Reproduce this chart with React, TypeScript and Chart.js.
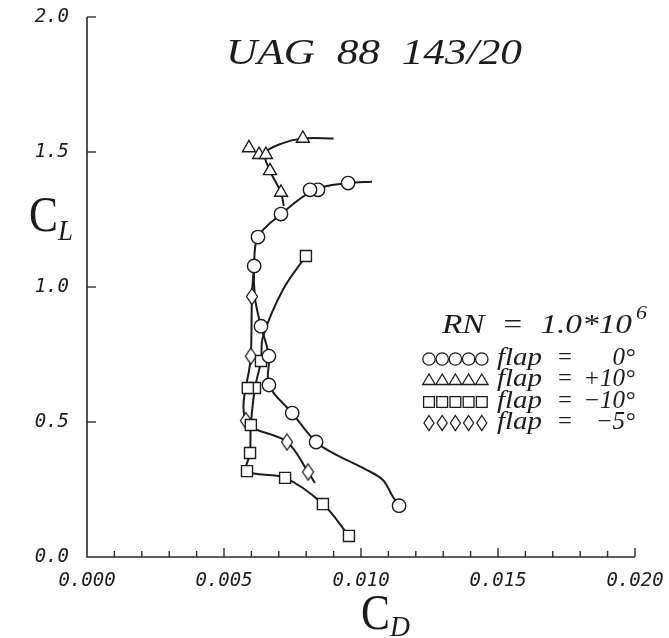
import React, { useEffect, useRef } from 'react';
import { Chart, registerables } from 'chart.js';

Chart.register(...registerables);

// ---------------- data ----------------
const xTickLabels = ['0.000', '0.005', '0.010', '0.015', '0.020'];
const yTickLabels = ['0.0', '0.5', '1.0', '1.5', '2.0'];

// flap = 0 deg (circles)
const flap0MarkCD = [0.00953, 0.00843, 0.00814, 0.00708, 0.00624, 0.0061, 0.00635, 0.00664, 0.00664, 0.00749, 0.00836, 0.01139];
const flap0MarkCL = [1.385, 1.36, 1.36, 1.27, 1.185, 1.078, 0.855, 0.744, 0.637, 0.533, 0.426, 0.19];
const flap0CurveCD = [0.0104, 0.00953, 0.0083, 0.00708, 0.00624, 0.0061, 0.00613, 0.00635, 0.00664, 0.00664, 0.00749, 0.00836, 0.00898, 0.01022, 0.0108, 0.01117, 0.01139];
const flap0CurveCL = [1.39, 1.385, 1.36, 1.27, 1.185, 1.078, 0.96, 0.855, 0.744, 0.637, 0.533, 0.426, 0.385, 0.322, 0.285, 0.222, 0.19];

// flap = +10 deg (triangles)
const flapP10MarkCD = [0.00788, 0.00591, 0.00628, 0.00653, 0.00668, 0.00708];
const flapP10MarkCL = [1.55, 1.515, 1.49, 1.49, 1.43, 1.35];
const flapP10CurveCD = [0.009, 0.00788, 0.00715, 0.0065, 0.00668, 0.00708, 0.00718];
const flapP10CurveCL = [1.55, 1.55, 1.533, 1.495, 1.43, 1.35, 1.3];

// flap = -10 deg (squares)
const flapM10MarkCD = [0.00799, 0.00635, 0.00613, 0.00587, 0.00598, 0.00595, 0.00584, 0.00723, 0.00861, 0.00956];
const flapM10MarkCL = [1.115, 0.726, 0.626, 0.626, 0.489, 0.385, 0.318, 0.293, 0.196, 0.078];
const flapM10CurveCD = [0.00799, 0.00715, 0.00642, 0.00635, 0.00613, 0.00598, 0.00595, 0.00584, 0.00723, 0.00861, 0.00956];
const flapM10CurveCL = [1.115, 0.99, 0.815, 0.726, 0.626, 0.489, 0.385, 0.318, 0.293, 0.196, 0.078];

// flap = -5 deg (diamonds)
const flapM5MarkCD = [0.00602, 0.00598, 0.0058, 0.0073, 0.00807];
const flapM5MarkCL = [0.965, 0.744, 0.505, 0.426, 0.315];
const flapM5CurveCD = [0.00608, 0.00602, 0.00598, 0.0058, 0.0073, 0.00807, 0.00832];
const flapM5CurveCL = [1.06, 0.965, 0.744, 0.505, 0.426, 0.315, 0.274];

const titleText = 'UAG  88  143/20';
const rnText = 'RN  =  1.0*10';
const rnExponent = '6';
const legendWord = 'flap';
const legendValues = ['0°', '+10°', '−10°', '−5°'];
const legendShapes = ['circle', 'triangle', 'square', 'diamond'];

// ---------------- helpers ----------------
const INK = '#1c1c1c';
const SERIF = '"Liberation Serif"';

function pts(cd: number[], cl: number[]) {
  return cd.map((x, i) => ({ x, y: cl[i] }));
}

function makeDiamond(w: number, h: number, lw: number) {
  const c = document.createElement('canvas');
  c.width = Math.ceil(w + lw * 2 + 2);
  c.height = Math.ceil(h + lw * 2 + 2);
  const ctx = c.getContext('2d')!;
  const cx = c.width / 2;
  const cy = c.height / 2;
  ctx.beginPath();
  ctx.moveTo(cx, cy - h / 2);
  ctx.lineTo(cx + w / 2, cy);
  ctx.lineTo(cx, cy + h / 2);
  ctx.lineTo(cx - w / 2, cy);
  ctx.closePath();
  ctx.fillStyle = '#fff';
  ctx.fill();
  ctx.lineWidth = lw;
  ctx.strokeStyle = INK;
  ctx.stroke();
  return c;
}

function drawFitted(ctx: CanvasRenderingContext2D, text: string, x: number, baseline: number, width: number, font: string) {
  ctx.save();
  ctx.font = font;
  ctx.textAlign = 'left';
  ctx.textBaseline = 'alphabetic';
  const m = ctx.measureText(text).width || 1;
  ctx.translate(x, baseline);
  ctx.scale(width / m, 1);
  ctx.fillStyle = INK;
  ctx.fillText(text, 0, 0);
  ctx.restore();
}

function drawShape(ctx: CanvasRenderingContext2D, shape: string, x: number, y: number) {
  ctx.beginPath();
  if (shape === 'circle') {
    ctx.arc(x, y, 6.2, 0, Math.PI * 2);
  } else if (shape === 'triangle') {
    ctx.moveTo(x, y - 6);
    ctx.lineTo(x + 6.3, y + 4.5);
    ctx.lineTo(x - 6.3, y + 4.5);
    ctx.closePath();
  } else if (shape === 'square') {
    ctx.rect(x - 5.4, y - 5.4, 10.8, 10.8);
  } else {
    ctx.moveTo(x, y - 7.5);
    ctx.lineTo(x + 5, y);
    ctx.lineTo(x, y + 7.5);
    ctx.lineTo(x - 5, y);
    ctx.closePath();
  }
  ctx.fillStyle = '#fff';
  ctx.fill();
  ctx.lineWidth = 1.3;
  ctx.strokeStyle = INK;
  ctx.stroke();
}

const decorPlugin = {
  id: 'decor',
  afterDraw(chart: any) {
    const ctx: CanvasRenderingContext2D = chart.ctx;
    const xs = chart.scales.x;
    const ys = chart.scales.y;
    const { left, right, top, bottom } = chart.chartArea;
    ctx.save();
    // axes
    ctx.strokeStyle = '#2a2a2a';
    ctx.lineWidth = 1.6;
    ctx.beginPath();
    ctx.moveTo(left, top);
    ctx.lineTo(left, bottom);
    ctx.lineTo(right, bottom);
    ctx.stroke();
    ctx.lineWidth = 1.4;
    xs.ticks.forEach((t: any, i: number) => {
      if (i === 0) return;
      const px = xs.getPixelForValue(t.value);
      const len = i % 5 === 0 ? 9 : 6;
      ctx.beginPath();
      ctx.moveTo(px, bottom);
      ctx.lineTo(px, bottom - len);
      ctx.stroke();
    });
    ys.ticks.forEach((t: any, i: number) => {
      if (i === 0) return;
      const py = ys.getPixelForValue(t.value);
      ctx.beginPath();
      ctx.moveTo(left, py);
      ctx.lineTo(left + 9, py);
      ctx.stroke();
    });

    // title
    drawFitted(ctx, titleText, 226, 64, 296, `italic 36px ${SERIF}`);

    // axis titles
    drawFitted(ctx, 'C', 29, 231, 29, `50px ${SERIF}`);
    drawFitted(ctx, 'L', 58, 240, 15, `italic 30px ${SERIF}`);
    drawFitted(ctx, 'C', 361, 629, 29, `50px ${SERIF}`);
    drawFitted(ctx, 'D', 390, 636, 20, `italic 30px ${SERIF}`);

    // legend
    drawFitted(ctx, rnText, 442, 333, 190, `italic 27px ${SERIF}`);
    drawFitted(ctx, rnExponent, 636, 319, 11, `italic 18px ${SERIF}`);
    const rows = [359, 380, 402, 423];
    legendShapes.forEach((shape, r) => {
      const cy = rows[r];
      for (let k = 0; k < 5; k++) {
        drawShape(ctx, shape, 429 + k * 13.2, cy);
      }
      drawFitted(ctx, legendWord, 497, cy + 6, 45, `italic 25px ${SERIF}`);
      drawFitted(ctx, '=', 558, cy + 5, 14, `24px ${SERIF}`);
      ctx.font = `italic 25px ${SERIF}`;
      ctx.fillStyle = INK;
      ctx.textAlign = 'right';
      ctx.textBaseline = 'alphabetic';
      ctx.fillText(legendValues[r], 635, cy + 6);
    });
    ctx.restore();
  },
};

export default function App() {
  const ref = useRef<HTMLCanvasElement>(null);

  useEffect(() => {
    document.body.style.margin = '0';
    const canvas = ref.current!;
    const diamond = makeDiamond(11, 16, 1.3);
    const markerBase = {
      showLine: false,
      backgroundColor: '#fff',
      borderColor: INK,
      borderWidth: 1.4,
      order: 0,
    };
    const curveBase = {
      showLine: true,
      pointRadius: 0,
      borderColor: INK,
      borderWidth: 2,
      tension: 0.35,
      fill: false,
      order: 1,
    };
    const tickFont = { family: 'DejaVu Sans Mono', style: 'italic', size: 19 };
    const chart = new Chart(canvas, {
      type: 'scatter',
      data: {
        datasets: [
          { ...curveBase, label: 'c0', data: pts(flap0CurveCD, flap0CurveCL) },
          { ...curveBase, label: 'c+10', data: pts(flapP10CurveCD, flapP10CurveCL) },
          { ...curveBase, label: 'c-10', data: pts(flapM10CurveCD, flapM10CurveCL) },
          { ...curveBase, label: 'c-5', data: pts(flapM5CurveCD, flapM5CurveCL) },
          { ...markerBase, label: 'flap 0', pointStyle: 'circle', pointRadius: 6.7, data: pts(flap0MarkCD, flap0MarkCL) },
          { ...markerBase, label: 'flap +10', pointStyle: 'triangle', pointRadius: 7.5, data: pts(flapP10MarkCD, flapP10MarkCL) },
          { ...markerBase, label: 'flap -10', pointStyle: 'rect', pointRadius: 7.8, data: pts(flapM10MarkCD, flapM10MarkCL) },
          { ...markerBase, label: 'flap -5', pointStyle: diamond, pointRadius: 8, data: pts(flapM5MarkCD, flapM5MarkCL) },
        ] as any,
      },
      options: {
        responsive: false,
        animation: false,
        layout: { padding: { left: 0, right: 34, top: 17, bottom: 0 } },
        plugins: {
          legend: { display: false },
          tooltip: { enabled: false },
          title: { display: false },
        },
        scales: {
          x: {
            type: 'linear',
            min: 0,
            max: 0.02,
            border: { display: false },
            grid: { display: false },
            ticks: {
              stepSize: 0.001,
              autoSkip: false,
              maxRotation: 0,
              padding: 5,
              color: INK,
              font: tickFont,
              callback: (_v: any, i: number) => (i % 5 === 0 ? xTickLabels[i / 5] : ''),
            },
            afterFit: (s: any) => {
              s.height = 81;
              s.paddingLeft = 0;
              s.paddingRight = 0;
            },
          },
          y: {
            type: 'linear',
            min: 0,
            max: 2,
            border: { display: false },
            grid: { display: false },
            ticks: {
              stepSize: 0.5,
              padding: 10,
              color: INK,
              font: tickFont,
              callback: (_v: any, i: number) => yTickLabels[i],
            },
            afterFit: (s: any) => {
              s.width = 87;
              s.paddingTop = 0;
              s.paddingBottom = 0;
            },
          },
        },
      } as any,
      plugins: [decorPlugin],
    });
    return () => chart.destroy();
  }, []);

  return (
    <canvas ref={ref} width={669} height={638} style={{ display: 'block', width: 669, height: 638 }} />
  );
}
